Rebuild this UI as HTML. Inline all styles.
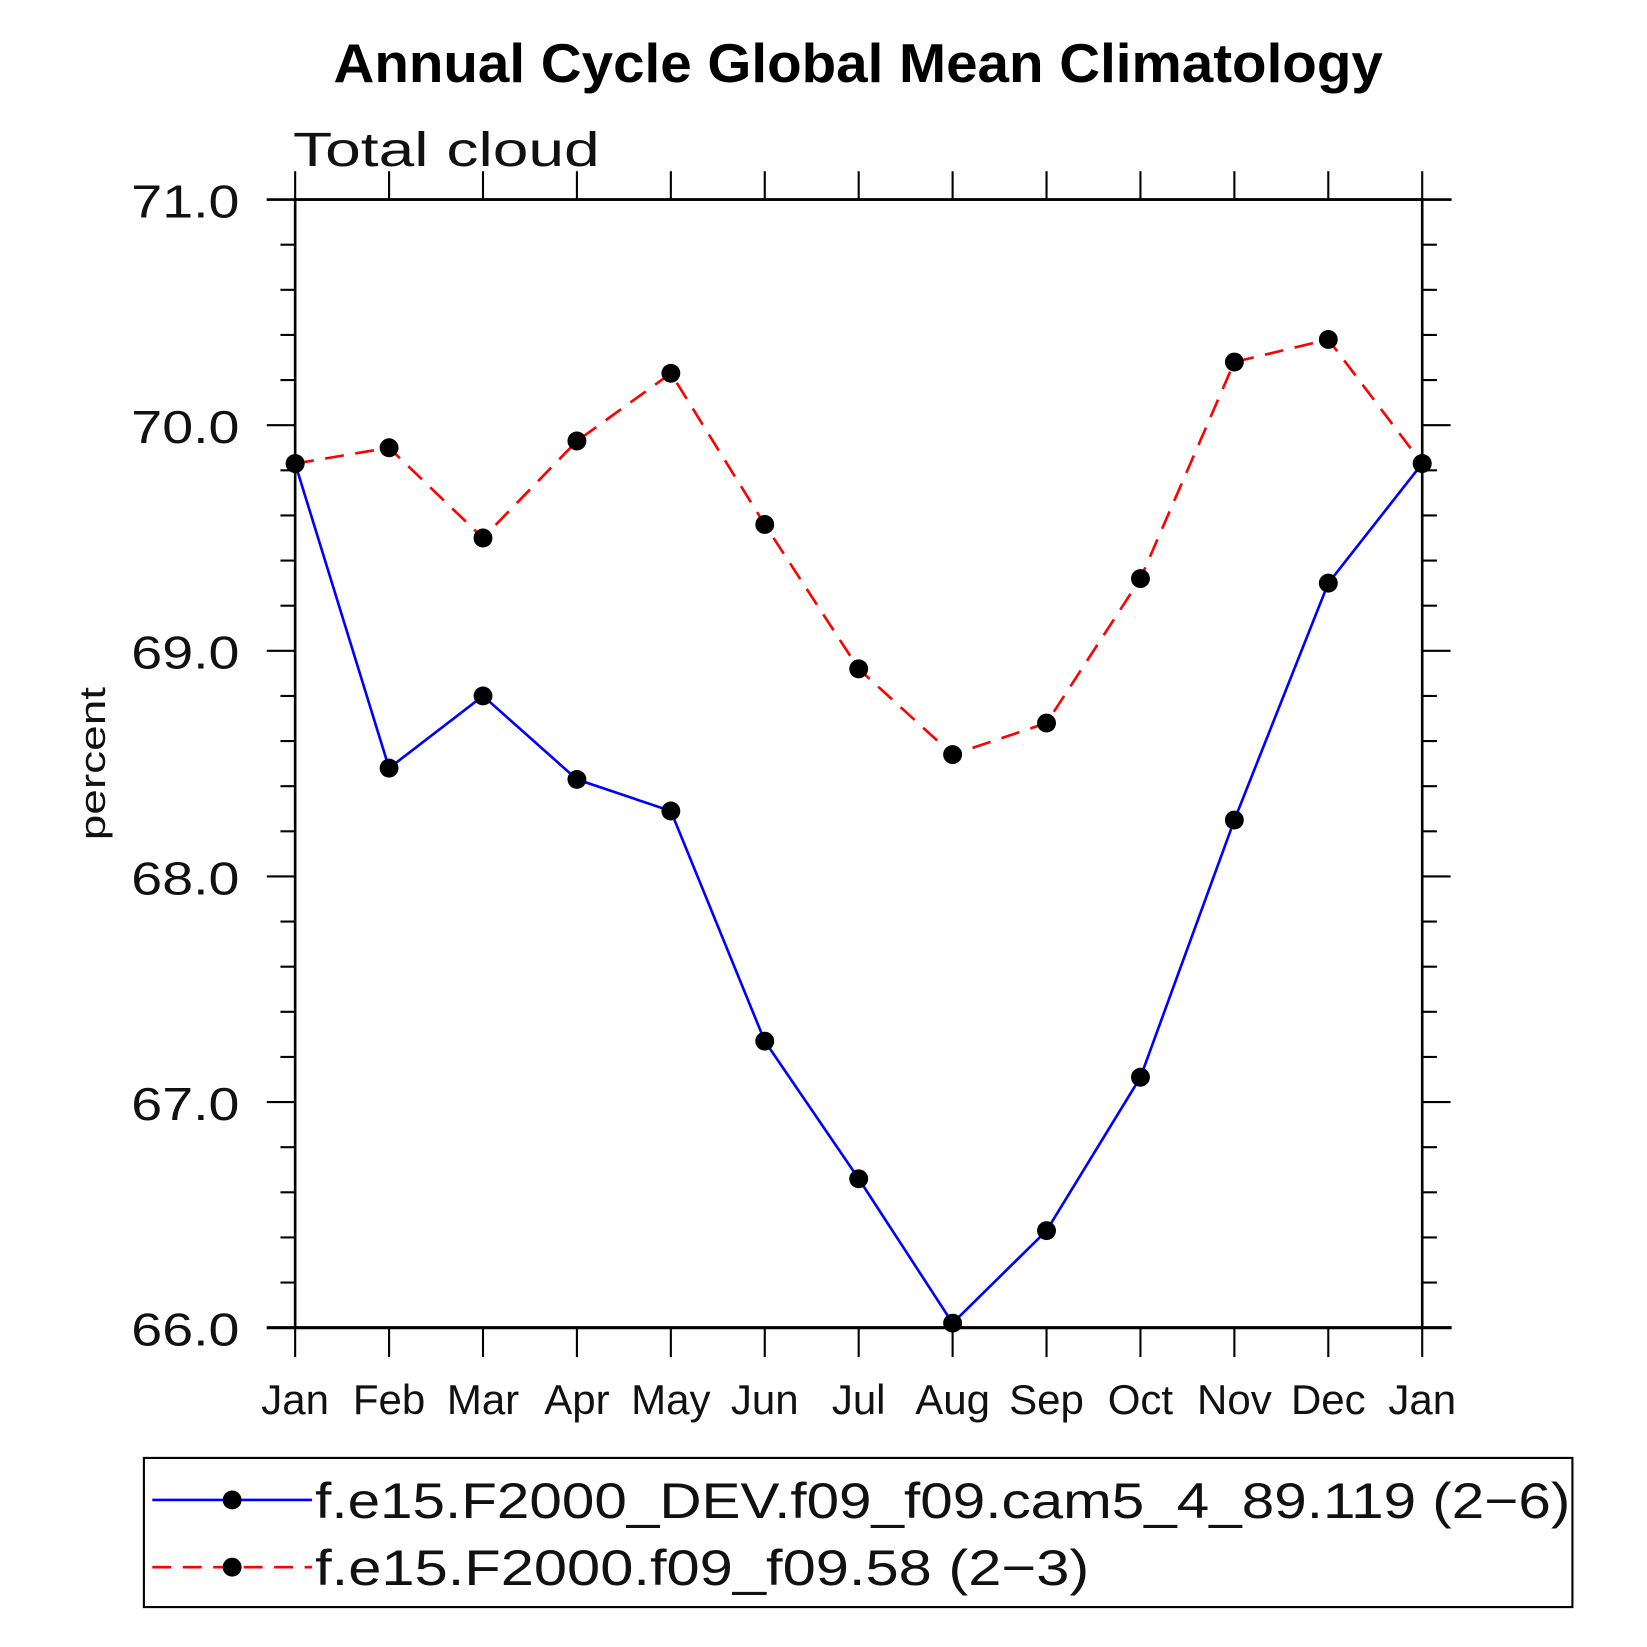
<!DOCTYPE html>
<html><head><meta charset="utf-8"><style>
html,body{margin:0;padding:0;background:#fff;}
svg{display:block;}
text{font-family:"Liberation Sans",sans-serif;}
</style></head><body>
<svg id="chart" width="1647" height="1647" viewBox="0 0 1568 1568" xmlns="http://www.w3.org/2000/svg">
<text x="817" y="78" text-anchor="middle" font-size="52" font-weight="bold" textLength="999" lengthAdjust="spacingAndGlyphs">Annual Cycle Global Mean Climatology</text>
<text x="279" y="158" font-size="46" fill="#111" textLength="292" lengthAdjust="spacingAndGlyphs">Total cloud</text>
<text transform="translate(100,727) rotate(-90)" text-anchor="middle" font-size="34" fill="#111" textLength="146" lengthAdjust="spacingAndGlyphs">percent</text>
<g id="axes"></g>
<g id="series"></g>
<rect x="137" y="1388" width="1360" height="142" fill="none" stroke="#000" stroke-width="2"/>
<g>
<line x1="145" y1="1428" x2="297" y2="1428" stroke="#0000ff" stroke-width="2.5"/>
<circle cx="221" cy="1428" r="9"/>
<text x="300" y="1445" font-size="48" fill="#111" textLength="1195" lengthAdjust="spacingAndGlyphs">f.e15.F2000_DEV.f09_f09.cam5_4_89.119 (2−6)</text>
</g>
<g>
<line x1="145" y1="1492" x2="297" y2="1492" stroke="#ff0000" stroke-width="2.5" stroke-dasharray="18,11"/>
<circle cx="221" cy="1492" r="9"/>
<text x="300" y="1509" font-size="48" fill="#111" textLength="737" lengthAdjust="spacingAndGlyphs">f.e15.F2000.f09_f09.58 (2−3)</text>
</g>
</svg>
<script>
const months = ["Jan","Feb","Mar","Apr","May","Jun","Jul","Aug","Sep","Oct","Nov","Dec","Jan"];
const devValues = [69.83,68.48,68.80,68.43,68.29,67.27,66.66,66.02,66.43,67.11,68.25,69.30,69.83];
const refValues = [69.83,69.90,69.50,69.93,70.23,69.56,68.92,68.54,68.68,69.32,70.28,70.38,69.83];
const yTickLabels = ["66.0","67.0","68.0","69.0","70.0","71.0"];
const NS="http://www.w3.org/2000/svg";
const L=281,R=1354,T=190,B=1264,yMin=66,yMax=71;
const xS=i=>L+(R-L)*i/(months.length-1);
const yS=v=>B-(v-yMin)/(yMax-yMin)*(B-T);
function mk(tag,attrs,parent){const e=document.createElementNS(NS,tag);for(const k in attrs)e.setAttribute(k,attrs[k]);parent.appendChild(e);return e;}
const ax=document.getElementById('axes');
const frame=mk('rect',{x:L,y:T,width:R-L,height:B-T,fill:'none',stroke:'#000','stroke-width':2.5},ax);


mk('line',{x1:254,y1:B,x2:1382,y2:B,stroke:'#000','stroke-width':3},ax);
mk('line',{x1:254,y1:T,x2:1382,y2:T,stroke:'#000','stroke-width':2.5},ax);
months.forEach((m,i)=>{
  const x=xS(i);
  mk('line',{x1:x,y1:B,x2:x,y2:B+28,stroke:'#000','stroke-width':2},ax);
  mk('line',{x1:x,y1:T,x2:x,y2:T-27,stroke:'#000','stroke-width':2},ax);
  const t=mk('text',{x:x,y:B+82,'text-anchor':'middle','font-size':40,fill:'#111'},ax);
  t.textContent=m;
  
  
});
for(let k=0;k<=25;k++){
  const v=yMin+k*0.2,y=yS(v),major=k%5===0;
  const len=major?27:14;
  mk('line',{x1:L-len,y1:y,x2:L,y2:y,stroke:'#000','stroke-width':2},ax);
  mk('line',{x1:R,y1:y,x2:R+len,y2:y,stroke:'#000','stroke-width':2},ax);
}
yTickLabels.forEach(lbl=>{
  const t=mk('text',{x:125,y:yS(parseFloat(lbl))+17,'font-size':44,fill:'#111',textLength:103,lengthAdjust:'spacingAndGlyphs'},ax);
  t.textContent=lbl;
  
  
});
const sg=document.getElementById('series');
function draw(vals,color,dash,name){
  const pts=vals.map((v,i)=>xS(i)+','+yS(v)).join(' ');
  const pl=mk('polyline',{points:pts,fill:'none',stroke:color,'stroke-width':2.5,'stroke-dasharray':dash},sg);
  
  
  vals.forEach((v,i)=>{
    const c=mk('circle',{cx:xS(i),cy:yS(v),r:9,fill:'#000'},sg);
    
    
  });
}
draw(devValues,'#0000ff','none','dev-series');
draw(refValues,'#ff0000','18,11','ref-series');
</script>
</body></html>
